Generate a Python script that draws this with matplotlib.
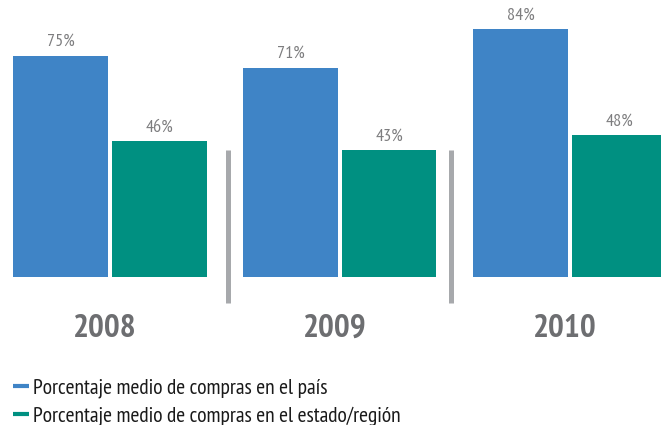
import numpy as np
import matplotlib
matplotlib.use("Agg")
import matplotlib.pyplot as plt
from matplotlib.lines import Line2D

years = ["2008", "2009", "2010"]
pais = [75, 71, 84]
region = [46, 43, 48]
labels = ["Porcentaje medio de compras en el país",
          "Porcentaje medio de compras en el estado/región"]

blue = "#3f84c6"
green = "#009081"
grey_txt = "#7d7d7f"
year_col = "#6d6e71"
div_col = "#a7a9ac"

plt.rcParams["font.family"] = ["PT Sans Narrow", "DejaVu Sans"]

W, H = 661, 425
fig = plt.figure(figsize=(W / 100, H / 100), dpi=100)
base = 277  # baseline pixel from top
ax = fig.add_axes([0, (H - base) / H, 1, base / H])
pxu = 2.95  # pixels per percent
ax.set_ylim(0, base / pxu)
# 1 group = 230 px, group 0 centred at x=110 px
ax.set_xlim(-110 / 230, (W - 110) / 230)
ax.axis("off")

x = np.arange(len(years))
w = 95 / 230
b1 = ax.bar(x - 49.5 / 230, pais, w, color=blue, linewidth=0)
b2 = ax.bar(x + 49 / 230, region, w, color=green, linewidth=0)

for bars in (b1, b2):
    for r in bars:
        ax.annotate(f"{r.get_height():.0f}%",
                    (r.get_x() + r.get_width() / 2, r.get_height()),
                    xytext=(0, 4), textcoords="offset points",
                    ha="center", va="bottom", fontsize=13, color=grey_txt,
                    clip_on=False)

for xd in (0.513, 1.483):
    ax.plot([xd, xd], [-26 / pxu, 127 / pxu], color=div_col, lw=3.6,
            solid_capstyle="butt", clip_on=False)

for xi, yr in zip(x, years):
    ax.text(xi - 5 / 230, -52 / pxu, yr, ha="center", va="center",
            fontsize=24, fontweight="bold", color=year_col, clip_on=False)

handles = [Line2D([], [], color=blue, lw=3, solid_capstyle="butt"),
           Line2D([], [], color=green, lw=3, solid_capstyle="butt")]
fig.legend(handles, labels, loc="upper left", bbox_to_anchor=(13 / W, 1 - 378 / H),
           frameon=False, fontsize=15.5, handlelength=0.75, handletextpad=0.2,
           labelspacing=0.38, borderaxespad=0, borderpad=0, labelcolor="#1a1a1a")

fig.savefig("out.png", dpi=100)
